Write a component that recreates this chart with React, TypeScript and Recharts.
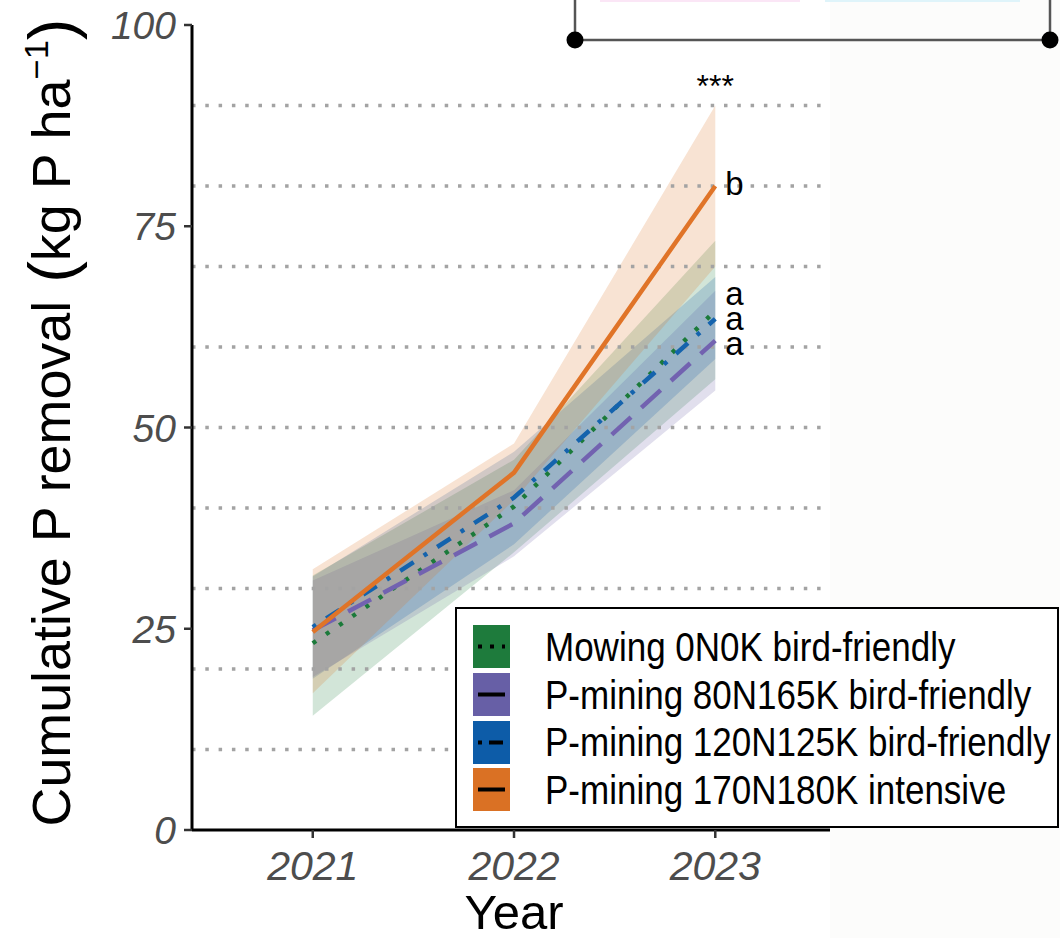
import React from "react";
import {
  ComposedChart,
  Area,
  Line,
  XAxis,
  YAxis,
  ReferenceLine,
  ReferenceDot,
  Legend,
  Label,
} from "recharts";

const FONT = "'Liberation Sans', Arial, Helvetica, sans-serif";

const years = [2021, 2022, 2023];

// Mowing 0N0K bird-friendly
const mowingMean = [23.2, 40.2, 64.5];
const mowingLow = [14.2, 34.5, 56.0];
const mowingHigh = [31.6, 46.0, 73.2];

// P-mining 80N165K bird-friendly
const pm80Mean = [24.8, 38.1, 60.8];
const pm80Low = [19.0, 34.0, 54.6];
const pm80High = [31.0, 42.2, 67.0];

// P-mining 120N125K bird-friendly
const pm120Mean = [25.2, 41.3, 63.5];
const pm120Low = [18.8, 35.5, 58.5];
const pm120High = [31.5, 47.0, 68.7];

// P-mining 170N180K intensive
const pm170Mean = [24.6, 44.4, 80.0];
const pm170Low = [17.0, 41.0, 70.0];
const pm170High = [32.4, 48.0, 90.0];

const yTicks = [0, 25, 50, 75, 100];
const gridValues = [10, 20, 30, 40, 50, 60, 70, 80, 90];

// letters of the post-hoc test at 2023, and the overall significance
const letterText = ["b", "a", "a", "a"];
const letterPos = [80.3, 66.6, 63.5, 60.4];
const starText = "***";
const starPos = 92.8;

const series = [
  {
    key: "mow",
    name: "Mowing 0N0K bird-friendly",
    fill: "#1e7b3c",
    stroke: "#1b7a3a",
    dash: "4 12",
    keyDash: "4 8",
  },
  {
    key: "pm80",
    name: "P-mining 80N165K bird-friendly",
    fill: "#675fa6",
    stroke: "#7262b0",
    dash: "26 14",
    keyDash: undefined,
  },
  {
    key: "pm120",
    name: "P-mining 120N125K bird-friendly",
    fill: "#0d5ca8",
    stroke: "#1463ad",
    dash: "4 12 16 12",
    keyDash: "4 7 14 20",
  },
  {
    key: "pm170",
    name: "P-mining 170N180K intensive",
    fill: "#da7124",
    stroke: "#e07428",
    dash: undefined,
    keyDash: undefined,
  },
];

const chartData = years.map((year, i) => ({
  year,
  mow: mowingMean[i],
  mowRange: [mowingLow[i], mowingHigh[i]],
  pm80: pm80Mean[i],
  pm80Range: [pm80Low[i], pm80High[i]],
  pm120: pm120Mean[i],
  pm120Range: [pm120Low[i], pm120High[i]],
  pm170: pm170Mean[i],
  pm170Range: [pm170Low[i], pm170High[i]],
}));

const YTick = (props: any) => {
  const { x, y, payload } = props;
  return (
    <text
      x={x - 8}
      y={y + 14}
      textAnchor="end"
      fontFamily={FONT}
      fontStyle="italic"
      fontSize={39}
      fill="#4d4d4d"
    >
      {payload.value}
    </text>
  );
};

const XTick = (props: any) => {
  const { x, y, payload } = props;
  return (
    <text
      x={x}
      y={y + 42}
      textAnchor="middle"
      fontFamily={FONT}
      fontStyle="italic"
      fontSize={41}
      fill="#4d4d4d"
    >
      {payload.value}
    </text>
  );
};

const YTitle = (props: any) => {
  const { viewBox } = props;
  const cy = viewBox.y + viewBox.height / 2 - 5;
  return (
    <text
      transform={`translate(70, ${cy}) rotate(-90)`}
      textAnchor="middle"
      fontFamily={FONT}
      fontSize={53}
      fill="#000"
      textLength={808}
      lengthAdjust="spacingAndGlyphs"
    >
      Cumulative P removal
      <tspan fontSize={64} dy={4}>
        {" ("}
      </tspan>
      <tspan fontSize={53} dy={-4}>
        kg P ha
      </tspan>
      <tspan fontSize={34} dy={-22}>
        −1
      </tspan>
      <tspan fontSize={64} dy={26}>
        )
      </tspan>
    </text>
  );
};

const XTitle = (props: any) => {
  const { viewBox } = props;
  return (
    <text
      x={viewBox.x + viewBox.width / 2 + 3}
      y={929}
      textAnchor="middle"
      fontFamily={FONT}
      fontSize={49}
      fill="#000"
    >
      Year
    </text>
  );
};

const LegendBox = () => (
  <div
    style={{
      boxSizing: "border-box",
      width: 604,
      height: 221,
      border: "2px solid #000",
      background: "#fff",
      paddingTop: 14,
      paddingLeft: 16,
      fontFamily: FONT,
    }}
  >
    {series.map((s) => (
      <div
        key={s.key}
        style={{ display: "flex", alignItems: "center", height: 47.7 }}
      >
        <svg width={37} height={43} style={{ display: "block" }}>
          <rect x={0} y={0} width={37} height={43} fill={s.fill} />
          <line
            x1={5}
            x2={32}
            y1={21.5}
            y2={21.5}
            stroke="#000"
            strokeWidth={4}
            strokeDasharray={s.keyDash}
          />
        </svg>
        <span
          style={{
            marginLeft: 35,
            fontSize: 35,
            color: "#000",
            display: "inline-block",
            transform: "scaleY(1.15)",
            whiteSpace: "nowrap",
          }}
        >
          {s.name}
        </span>
      </div>
    ))}
  </div>
);

const TopBracket = () => (
  <svg
    width={1060}
    height={60}
    style={{ position: "absolute", left: 0, top: 0 }}
  >
    <line x1={600} x2={800} y1={1} y2={1} stroke="#fbe6f6" strokeWidth={2} />
    <line x1={825} x2={1020} y1={1} y2={1} stroke="#dff4fa" strokeWidth={2} />
    <line x1={575} x2={575} y1={0} y2={40} stroke="#555" strokeWidth={2.5} />
    <line x1={1050} x2={1050} y1={0} y2={40} stroke="#555" strokeWidth={2.5} />
    <line x1={575} x2={1050} y1={40} y2={40} stroke="#555" strokeWidth={2.5} />
    <circle cx={575} cy={40} r={8.5} fill="#000" />
    <circle cx={1050} cy={40} r={8.5} fill="#000" />
  </svg>
);

export default function App() {
  return (
    <div
      style={{
        position: "absolute",
        left: 0,
        top: 0,
        width: 1060,
        height: 938,
        background: "#fff",
        overflow: "hidden",
      }}
    >
      <div
        style={{
          position: "absolute",
          left: 830,
          top: 0,
          width: 230,
          height: 938,
          background: "#fcfcfb",
        }}
      />
      <div style={{ position: "absolute", left: 0, top: 0 }}>
        <ComposedChart
          width={1060}
          height={938}
          data={chartData}
          margin={{ top: 25, right: 230, bottom: 0, left: 0 }}
        >
          {gridValues.map((v) => (
            <ReferenceLine
              key={v}
              y={v}
              stroke="#a3a3a3"
              strokeWidth={3.5}
              strokeDasharray="3.5 9.8"
            />
          ))}
          <XAxis
            dataKey="year"
            type="number"
            domain={[2020.4, 2023.57]}
            ticks={years}
            allowDataOverflow
            height={108}
            stroke="#000"
            axisLine={{ stroke: "#000", strokeWidth: 3 }}
            tickLine={{ stroke: "#333", strokeWidth: 2.5 }}
            tickSize={8}
            tickMargin={0}
            tick={<XTick />}
          >
            <Label content={<XTitle />} />
          </XAxis>
          <YAxis
            type="number"
            domain={[0, 100]}
            ticks={yTicks}
            width={192}
            axisLine={{ stroke: "#000", strokeWidth: 3 }}
            tickLine={{ stroke: "#333", strokeWidth: 2.5 }}
            tickSize={8}
            tickMargin={0}
            tick={<YTick />}
          >
            <Label content={<YTitle />} />
          </YAxis>
          {series.map((s) => (
            <Area
              key={s.key + "Range"}
              type="linear"
              dataKey={s.key + "Range"}
              stroke="none"
              fill={s.fill}
              fillOpacity={0.2}
              dot={false}
              activeDot={false}
              isAnimationActive={false}
            />
          ))}
          {series.map((s) => (
            <Line
              key={s.key}
              type="linear"
              dataKey={s.key}
              stroke={s.stroke}
              strokeWidth={4.5}
              strokeDasharray={s.dash}
              dot={false}
              activeDot={false}
              isAnimationActive={false}
            />
          ))}
          {letterText.map((t, i) => (
            <ReferenceDot
              key={"l" + i}
              x={years[2]}
              y={letterPos[i]}
              r={0}
              ifOverflow="visible"
              shape={(p: any) => (
                <text
                  x={p.cx + 10}
                  y={p.cy + 11}
                  fontFamily={FONT}
                  fontSize={33}
                  fill="#000"
                >
                  {t}
                </text>
              )}
            />
          ))}
          <ReferenceDot
            x={years[2]}
            y={starPos}
            r={0}
            ifOverflow="visible"
            shape={(p: any) => (
              <text
                x={p.cx}
                y={p.cy + 14}
                textAnchor="middle"
                fontFamily={FONT}
                fontSize={32}
                fill="#000"
              >
                {starText}
              </text>
            )}
          />
          <Legend
            layout="horizontal"
            verticalAlign="middle"
            align="center"
            content={<LegendBox />}
            wrapperStyle={{
              position: "absolute",
              left: 455,
              top: 607,
              width: 604,
              height: 221,
            }}
          />
        </ComposedChart>
      </div>
      <TopBracket />
    </div>
  );
}
